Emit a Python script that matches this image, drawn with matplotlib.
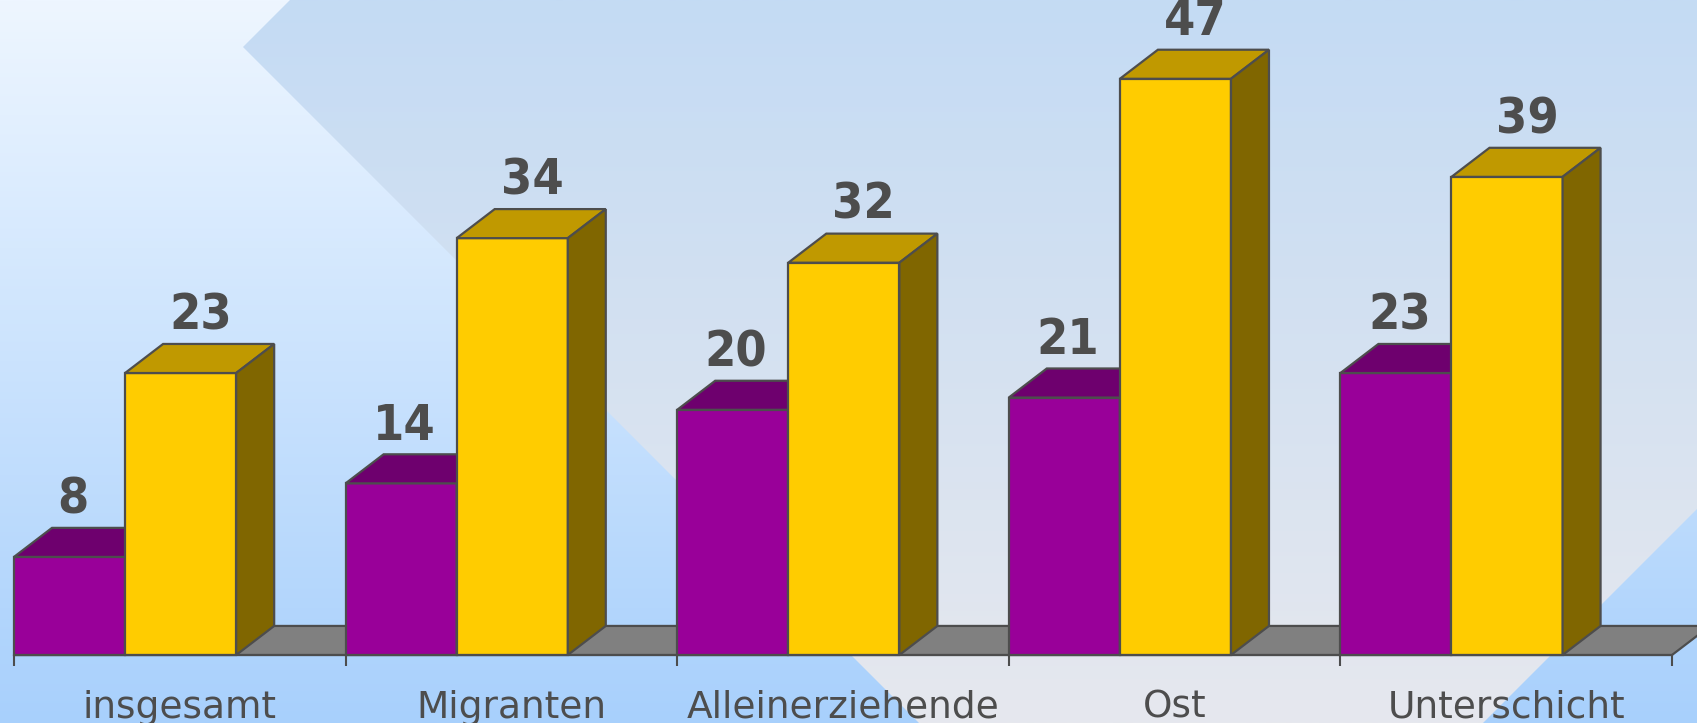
import numpy as np
import matplotlib
matplotlib.use("Agg")
import matplotlib.pyplot as plt
from matplotlib.patches import Polygon
from matplotlib.colors import LinearSegmentedColormap

# data
categories = ["insgesamt", "Migranten", "Alleinerziehende", "Ost", "Unterschicht"]
purple_vals = [8, 14, 20, 21, 23]
yellow_vals = [23, 34, 32, 47, 39]

# colours: front, top, side
purple_cols = ("#990099", "#6e006e", "#4d004d")
yellow_cols = ("#ffcc00", "#c09900", "#806600")
edge = "#4d4d4d"
txt = "#4d4d4d"

W, H = 1697, 723
fig = plt.figure(figsize=(W / 100, H / 100), dpi=100)

# background: vertical gradient plus a tilted square
bg = fig.add_axes([0, 0, 1, 1])
bg.set_xlim(0, W)
bg.set_ylim(H, 0)
bg.axis("off")
grad = np.linspace(0, 1, 256).reshape(-1, 1)
outer = LinearSegmentedColormap.from_list("outer", ["#eef6ff", "#a8d0fc"])
inner = LinearSegmentedColormap.from_list("inner", ["#c4dbf4", "#e6e8ee"])
bg.imshow(grad, cmap=outer, extent=[0, W, H, 0], aspect="auto")
im = bg.imshow(grad, cmap=inner, extent=[0, W, H, 0], aspect="auto")
diamond = Polygon([(243, 47), (1201, 1005), (2159, 47), (1201, -911)],
                  closed=True, transform=bg.transData)
im.set_clip_path(diamond)

# chart
ax = fig.add_axes([14 / W, 1 - 655 / H, (1672 - 14) / W, 655 / H])
ax.set_xlim(0, 5)
ax.set_ylim(0, 655 / 12.26)
ax.patch.set_alpha(0)
for s in ["top", "right", "left"]:
    ax.spines[s].set_visible(False)
ax.spines["bottom"].set_color(edge)
ax.spines["bottom"].set_linewidth(1.5)
ax.set_yticks([])
ax.set_xticks(range(6))
ax.set_xticklabels([])
ax.tick_params(axis="x", length=8, width=1.5, color=edge)

BW = 0.335
DX = 0.1146
DY = 2.37


def box(x, w, h, cols):
    front, top, side = cols
    kw = dict(ec=edge, lw=1.6, clip_on=False, joinstyle="miter")
    ax.add_patch(Polygon([(x, 0), (x + w, 0), (x + w, h), (x, h)], fc=front, **kw))
    ax.add_patch(Polygon([(x, h), (x + w, h), (x + w + DX, h + DY), (x + DX, h + DY)], fc=top, **kw))
    ax.add_patch(Polygon([(x + w, 0), (x + w + DX, DY), (x + w + DX, h + DY), (x + w, h)], fc=side, **kw))


# floor
ax.add_patch(Polygon([(0, 0), (5, 0), (5 + DX, DY), (DX, DY)], fc="#808080",
                     ec=edge, lw=1.6, clip_on=False))

for i, (p, y) in enumerate(zip(purple_vals, yellow_vals)):
    box(i, BW, p, purple_cols)
    box(i + BW, BW, y, yellow_cols)
    ax.text(i + BW / 2 + 0.01, p + DY + 1.2, str(p), ha="center", va="baseline",
            fontsize=36, fontweight="bold", fontstretch="condensed", color=txt)
    ax.text(i + BW * 1.5 + 0.06, y + DY + 1.2, str(y), ha="center", va="baseline",
            fontsize=36, fontweight="bold", fontstretch="condensed", color=txt)
    ax.text(i + 0.5, -0.096, categories[i], transform=ax.get_xaxis_transform(),
            ha="center", va="baseline", fontsize=27, color=txt)

fig.savefig("out.png", dpi=100)
